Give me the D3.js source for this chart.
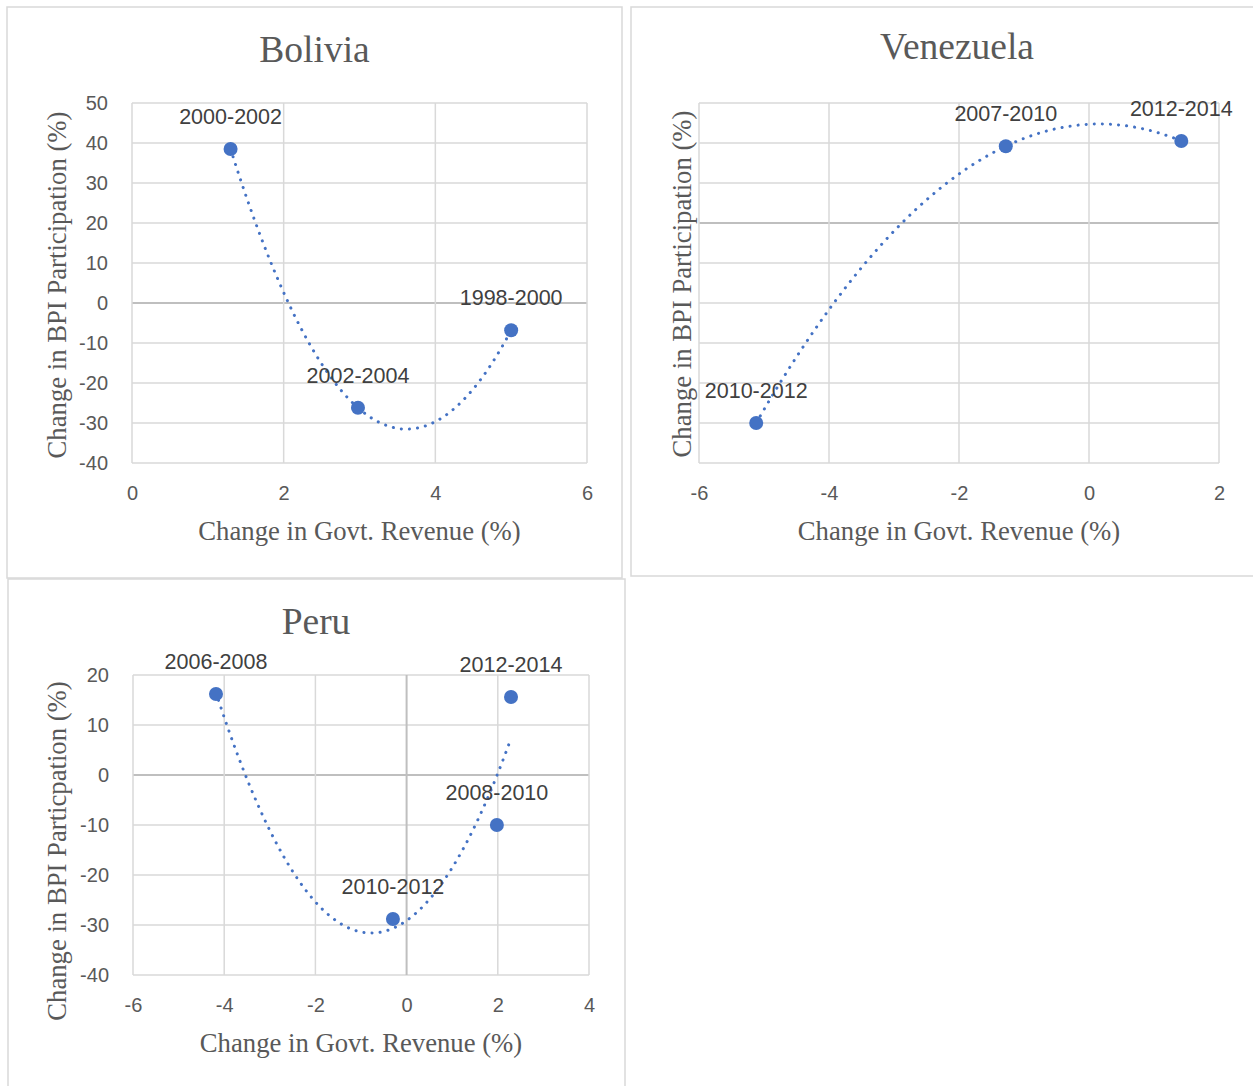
<!DOCTYPE html>
<html>
<head>
<meta charset="utf-8">
<script src="https://cdn.jsdelivr.net/npm/d3@7"></script>
<style>
  body { margin: 0; background: #fff; }
  svg { display: block; }
  .tick text { font-family: "Liberation Sans", Arial, sans-serif; fill: #595959; }
</style>
</head>
<body>
<svg width="1253" height="1086"></svg>
<script>
// Bolivia
const boliviaPeriods = ['2000-2002', '2002-2004', '1998-2000'];
const boliviaRevenue = [1.3, 2.98, 5.0];
const boliviaBPI = [38.5, -26.2, -6.8];
const boliviaXTicks = [0, 2, 4, 6];
const boliviaYTicks = [-40, -30, -20, -10, 0, 10, 20, 30, 40, 50];

// Venezuela (no y tick labels shown on the original)
const venezuelaPeriods = ['2010-2012', '2007-2010', '2012-2014'];
const venezuelaRevenue = [-5.12, -1.28, 1.42];
const venezuelaBPI = [-50, 19.2, 20.5];
const venezuelaXTicks = [-6, -4, -2, 0, 2];
const venezuelaYTicks = [-60, -50, -40, -30, -20, -10, 0, 10, 20, 30];

// Peru
const peruPeriods = ['2006-2008', '2012-2014', '2008-2010', '2010-2012'];
const peruRevenue = [-4.18, 2.29, 1.98, -0.3];
const peruBPI = [16.2, 15.6, -10, -28.8];
const peruXTicks = [-6, -4, -2, 0, 2, 4];
const peruYTicks = [-40, -30, -20, -10, 0, 10, 20];

const svg = d3.select('svg');
const gridColor = '#d9d9d9';
const axisColor = '#bfbfbf';
const blue = '#4472C4';
const fmt = d => String(d);   // plain hyphen for negatives, like Excel

// least squares 2nd order polynomial (Excel style trendline)
const polyFit = (xs, ys) => {
    let s = [0, 0, 0, 0, 0], t = [0, 0, 0];
    xs.forEach((x, i) => {
        for (let k = 0; k < 5; k++) s[k] += Math.pow(x, k);
        for (let k = 0; k < 3; k++) t[k] += ys[i] * Math.pow(x, k);
    });
    const A = [[s[0], s[1], s[2], t[0]], [s[1], s[2], s[3], t[1]], [s[2], s[3], s[4], t[2]]];
    for (let i = 0; i < 3; i++) {
        for (let j = i + 1; j < 3; j++) {
            const f = A[j][i] / A[i][i];
            for (let k = i; k < 4; k++) A[j][k] -= f * A[i][k];
        }
    }
    const c = [0, 0, 0];
    for (let i = 2; i >= 0; i--) {
        let v = A[i][3];
        for (let k = i + 1; k < 3; k++) v -= A[i][k] * c[k];
        c[i] = v / A[i][i];
    }
    return x => c[0] + c[1] * x + c[2] * x * x;
};

const drawPanel = (p) => {
    // panel frame
    svg.append('rect')
        .attr('x', p.box[0]).attr('y', p.box[1])
        .attr('width', p.box[2]).attr('height', p.box[3])
        .attr('fill', 'none').attr('stroke', gridColor).attr('stroke-width', 1.5);

    const xScale = d3.scaleLinear().domain(d3.extent(p.xTicks)).range([p.left, p.right]);
    const yScale = d3.scaleLinear().domain(d3.extent(p.yTicks)).range([p.bottom, p.top]);

    const g = svg.append('g');

    // gridlines
    g.selectAll('.hgrid').data(p.yTicks).enter().append('line')
        .attr('x1', p.left).attr('x2', p.right)
        .attr('y1', d => yScale(d)).attr('y2', d => yScale(d))
        .attr('stroke', d => d === 0 ? axisColor : gridColor)
        .attr('stroke-width', d => d === 0 ? 2 : 1.5);
    g.selectAll('.vgrid').data(p.xTicks).enter().append('line')
        .attr('y1', p.top).attr('y2', p.bottom)
        .attr('x1', d => xScale(d)).attr('x2', d => xScale(d))
        .attr('stroke', d => (d === 0 && p.zeroV) ? axisColor : gridColor)
        .attr('stroke-width', d => (d === 0 && p.zeroV) ? 2 : 1.5);

    // axes (labels only)
    const xAxis = g.append('g')
        .attr('transform', `translate(0,${p.bottom + 20})`)
        .call(d3.axisBottom(xScale).tickValues(p.xTicks).tickSize(0).tickFormat(fmt));
    xAxis.select('.domain').remove();
    xAxis.selectAll('text').attr('font-size', 20).attr('dy', '0.71em');

    if (p.showY) {
        const yAxis = g.append('g')
            .attr('transform', `translate(${p.left - 21},0)`)
            .call(d3.axisLeft(yScale).tickValues(p.yTicks).tickSize(0).tickFormat(fmt));
        yAxis.select('.domain').remove();
        yAxis.selectAll('text').attr('font-size', 20);
    }

    // trendline
    const f = polyFit(p.xs, p.ys);
    const [x0, x1] = d3.extent(p.xs);
    const pts = d3.range(0, 101).map(i => x0 + (x1 - x0) * i / 100);
    g.append('path')
        .datum(pts)
        .attr('d', d3.line().x(d => xScale(d)).y(d => yScale(f(d))))
        .attr('fill', 'none')
        .attr('stroke', blue)
        .attr('stroke-width', 3)
        .attr('stroke-linecap', 'round')
        .attr('stroke-dasharray', '0.1 8');

    // markers
    const data = p.xs.map((x, i) => ({ x, y: p.ys[i], label: p.labels[i] }));
    g.selectAll('circle').data(data).enter().append('circle')
        .attr('cx', d => xScale(d.x)).attr('cy', d => yScale(d.y))
        .attr('r', 7).attr('fill', blue);
    g.selectAll('.lbl').data(data).enter().append('text')
        .attr('x', d => xScale(d.x)).attr('y', d => yScale(d.y) - 25)
        .attr('text-anchor', 'middle')
        .attr('font-family', '"Liberation Sans", Arial, sans-serif')
        .attr('font-size', 21.5)
        .attr('fill', '#404040')
        .text(d => d.label);

    // titles
    g.append('text')
        .attr('x', (p.left + p.right) / 2 + p.titleDx).attr('y', p.titleY)
        .attr('text-anchor', 'middle')
        .attr('font-family', '"Liberation Serif", "Times New Roman", serif')
        .attr('font-size', 37.5).attr('fill', '#595959')
        .text(p.title);
    g.append('text')
        .attr('x', (p.left + p.right) / 2).attr('y', p.bottom + 77)
        .attr('text-anchor', 'middle')
        .attr('font-family', '"Liberation Serif", "Times New Roman", serif')
        .attr('font-size', 26.7).attr('fill', '#595959')
        .text('Change in Govt. Revenue (%)');
    g.append('text')
        .attr('transform', `translate(${p.yTitleX},${(p.top + p.bottom) / 2 + p.yTitleDy}) rotate(-90)`)
        .attr('text-anchor', 'middle')
        .attr('font-family', '"Liberation Serif", "Times New Roman", serif')
        .attr('font-size', 26.7).attr('fill', '#595959')
        .text(p.yTitle);
};

drawPanel({
    box: [7, 7, 615, 571], left: 132, right: 587, top: 103, bottom: 463,
    xTicks: boliviaXTicks, yTicks: boliviaYTicks, xs: boliviaRevenue, ys: boliviaBPI,
    labels: boliviaPeriods, title: 'Bolivia', titleY: 62, titleDx: -45, showY: true, zeroV: false,
    yTitleX: 66, yTitleDy: 2, yTitle: 'Change in BPI Participation (%)'
});
drawPanel({
    box: [631, 7, 624, 569], left: 699, right: 1219, top: 103, bottom: 463,
    xTicks: venezuelaXTicks, yTicks: venezuelaYTicks, xs: venezuelaRevenue, ys: venezuelaBPI,
    labels: venezuelaPeriods, title: 'Venezuela', titleY: 59, titleDx: -2, showY: false, zeroV: false,
    yTitleX: 691, yTitleDy: 1, yTitle: 'Change in BPI Participation (%)'
});
drawPanel({
    box: [8, 579, 617, 510], left: 133, right: 589, top: 675, bottom: 975,
    xTicks: peruXTicks, yTicks: peruYTicks, xs: peruRevenue, ys: peruBPI,
    labels: peruPeriods, title: 'Peru', titleY: 634, titleDx: -45, showY: true, zeroV: true,
    yTitleX: 66, yTitleDy: 26, yTitle: 'Change in BPI Particpation (%)'
});
</script>
</body>
</html>
